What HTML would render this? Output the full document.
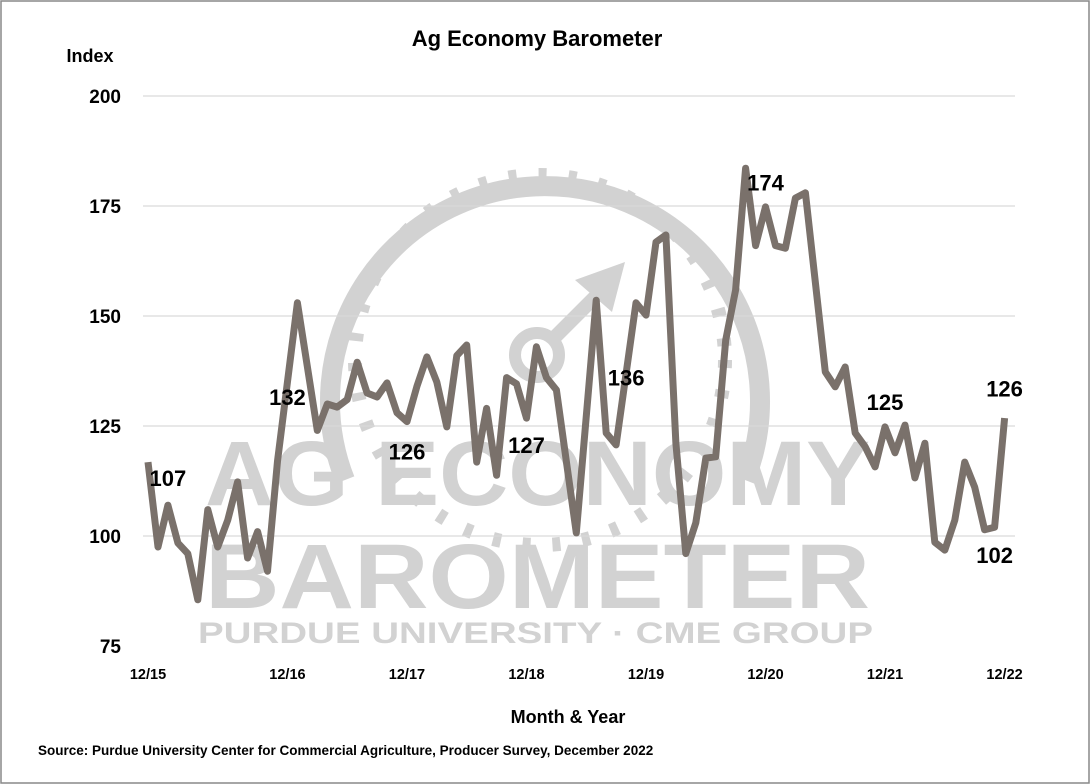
<!DOCTYPE html>
<html><head><meta charset="utf-8"><style>
body{margin:0;background:#fff;}
svg{display:block;font-family:"Liberation Sans",sans-serif;}
</style></head><body>
<svg width="1090" height="784" viewBox="0 0 1090 784">
<rect x="1" y="1" width="1088" height="782" fill="#fff" stroke="#888" stroke-width="1.5"/>
<g id="wm" fill="#d2d2d2">
 <path d="M345,480 A215,215 0 1 1 745,480" fill="none" stroke="#d2d2d2" stroke-width="20"/>
 <circle cx="540" cy="360" r="185" fill="none" stroke="#d2d2d2" stroke-width="14" stroke-dasharray="8 22"/>
 <circle cx="537" cy="355" r="22" fill="none" stroke="#d2d2d2" stroke-width="12"/>
 <path d="M550,342 L600,292" stroke="#d2d2d2" stroke-width="14"/>
 <path d="M575,280 L625,262 L612,312 Z"/>
 <text x="205" y="505" font-size="92" font-weight="bold" textLength="665" lengthAdjust="spacingAndGlyphs">AG ECONOMY</text>
 <text x="205" y="608" font-size="92" font-weight="bold" textLength="665" lengthAdjust="spacingAndGlyphs">BAROMETER</text>
 <text x="198" y="643" font-size="30" font-weight="bold" textLength="675" lengthAdjust="spacingAndGlyphs">PURDUE UNIVERSITY · CME GROUP</text>
</g>
<text x="537" y="46" text-anchor="middle" font-size="22" font-weight="bold">Ag Economy Barometer</text>
<text x="90" y="62" text-anchor="middle" font-size="18" font-weight="bold">Index</text>
<g id="grid"></g><g id="yt"></g><g id="xt"></g>
<path id="line" fill="none" stroke="#7a716b" stroke-width="7" stroke-linejoin="round"/>
<g id="ann" font-size="22" font-weight="bold" text-anchor="middle"></g>
<text x="568" y="723" text-anchor="middle" font-size="18" font-weight="bold">Month &amp; Year</text>
<text x="38" y="755" font-size="13.5" font-weight="bold">Source: Purdue University Center for Commercial Agriculture, Producer Survey, December 2022</text>
</svg>
<script>
const months=[0,1,2,3,4,5,6,7,8,9,10,11,12,13,15,17,18,19,20,21,22,23,24,25,26,27,28,29,30,31,32,33,34,35,36,37,38,39,40,41,43,45,46,47,49,50,51,52,53,54,55,56,57,58,59,60,61,62,63,64,65,66,68,69,70,71,72,73,74,75,76,77,78,79,80,81,82,83,84,85,86];
const values=[116.8,97.5,107,98.4,96,85.5,106,97.5,103.6,112.3,95,101,92,117,153,124,130,129.3,131,139.5,132.5,131.6,134.8,128,126,134,140.7,135,124.8,141,143.4,116.8,129,113.8,136,134.6,126.8,143,136,133.2,100.7,153.6,123.4,120.7,153,150.2,166.8,168.4,121,96,103,117.7,118,144.5,155.9,183.6,166,174.8,166,165.4,176.8,178,137.3,133.9,138.4,123.4,120.3,115.7,124.8,118.9,125.2,113.2,121.1,98.6,96.8,103.6,116.8,111.1,101.4,102,126.8];
const yTicks=[75,100,125,150,175,200];
const xTickLabels=["12/15","12/16","12/17","12/18","12/19","12/20","12/21","12/22"];
const xTickMonths=[0,14,26,38,50,62,74,86];
const annLabels=["107","132","126","127","136","174","125","126","102"];
const annMonths=[2,14,26,38,48,62,74,86,85];
const annValues=[107,132,126,127,136,174,125,126,102];
const annDy=[-19,10,38,36,8,-20,-16,-25,36];
const NS="http://www.w3.org/2000/svg";
const X=m=>148+m*9.96, Y=v=>646-(v-75)*4.4;
const g=document.getElementById('grid'),yt=document.getElementById('yt'),xt=document.getElementById('xt'),an=document.getElementById('ann');
yTicks.forEach(v=>{
 if(v>75){const l=document.createElementNS(NS,'line');
 
 
 l.setAttribute('x1',143);l.setAttribute('x2',1015);l.setAttribute('y1',Y(v));l.setAttribute('y2',Y(v));
 l.setAttribute('stroke','#d9d9d9');l.setAttribute('stroke-width','1.2');g.appendChild(l);}
 const t=document.createElementNS(NS,'text');
 
 
 t.setAttribute('x',121);t.setAttribute('y',Y(v)+7);t.setAttribute('text-anchor','end');
 t.setAttribute('font-size','19');t.setAttribute('font-weight','bold');t.textContent=v;yt.appendChild(t);
});
xTickLabels.forEach((s,i)=>{
 const t=document.createElementNS(NS,'text');
 
 
 t.setAttribute('x',X(xTickMonths[i]));t.setAttribute('y',679);t.setAttribute('text-anchor','middle');
 t.setAttribute('font-size','14.5');t.setAttribute('font-weight','bold');t.textContent=s;xt.appendChild(t);
});
document.getElementById('line').setAttribute('d',months.map((m,i)=>(i?'L':'M')+X(m).toFixed(1)+','+Y(values[i]).toFixed(1)).join(''));
annLabels.forEach((s,i)=>{
 const t=document.createElementNS(NS,'text');
 
 
 t.setAttribute('x',X(annMonths[i]));t.setAttribute('y',Y(annValues[i])+annDy[i]);t.textContent=s;an.appendChild(t);
});
</script>
</body></html>
